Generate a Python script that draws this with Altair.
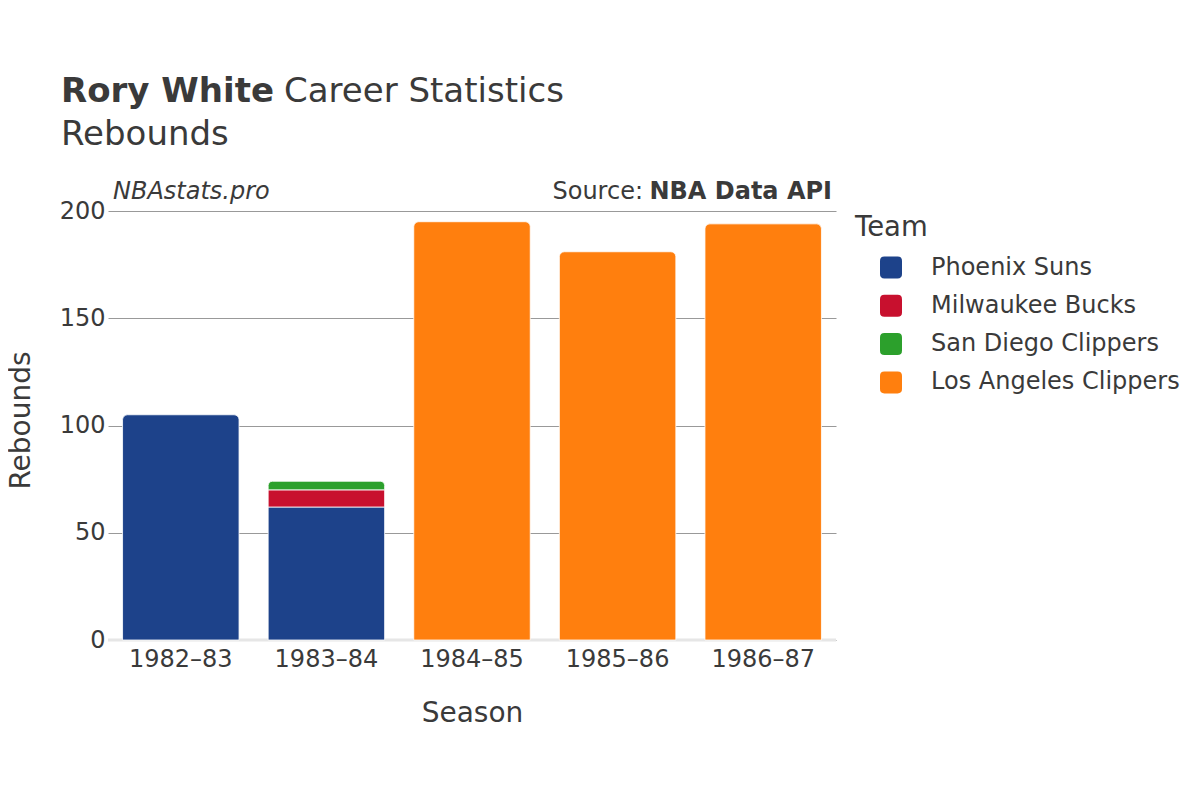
import altair as alt
import pandas as pd

seasons = ["1982–83", "1983–84", "1983–84", "1983–84", "1984–85", "1985–86", "1986–87"]
teams = ["Phoenix Suns", "Phoenix Suns", "Milwaukee Bucks", "San Diego Clippers",
         "Los Angeles Clippers", "Los Angeles Clippers", "Los Angeles Clippers"]
rebounds = [105, 62, 8, 4, 195, 181, 194]

season_order = ["1982–83", "1983–84", "1984–85", "1985–86", "1986–87"]
team_order = ["Phoenix Suns", "Milwaukee Bucks", "San Diego Clippers", "Los Angeles Clippers"]
team_colors = ["#1d428a", "#c8102e", "#2ca02c", "#ff7f0e"]
y_ticks = [0, 50, 100, 150, 200]

df = pd.DataFrame({"Season": seasons, "Team": teams, "Rebounds": rebounds})
df["order"] = [team_order.index(t) for t in df["Team"]]

FONT = "DejaVu Sans"
TXT = "#3a3a3a"
W, H = 728, 429

color = alt.Color(
    "Team:N",
    scale=alt.Scale(domain=team_order, range=team_colors),
    legend=alt.Legend(
        title="Team", orient="none", legendX=747, legendY=3,
        titleFontSize=27.5, titleFont=FONT, titleColor=TXT, titleFontWeight="normal",
        titlePadding=14,
        labelFontSize=24, labelFont=FONT, labelColor=TXT, labelLimit=400,
        symbolType="M -0.6,-1 L 0.6,-1 Q 1,-1 1,-0.6 L 1,0.6 Q 1,1 0.6,1 L -0.6,1 Q -1,1 -1,0.6 L -1,-0.6 Q -1,-1 -0.6,-1 Z",
        symbolSize=484, symbolStrokeWidth=0, symbolOpacity=1,
        symbolOffset=24, labelOffset=28, rowPadding=14.3,
    ),
)

x_enc = alt.X(
    "Season:N", sort=season_order,
    scale=alt.Scale(domain=season_order, paddingInner=0.2, paddingOuter=0.1),
    axis=alt.Axis(title="Season", labelAngle=0, labelFontSize=24, labelFont=FONT,
                  labelColor=TXT, labelPadding=7, ticks=False, domain=False,
                  titleFontSize=28, titleFont=FONT, titleColor=TXT,
                  titleFontWeight="normal", titlePadding=28),
)
y_axis = alt.Axis(title="Rebounds", values=y_ticks, labelFontSize=24, labelFont=FONT,
                  labelColor=TXT, labelPadding=3, ticks=False, domain=False,
                  gridColor="#999999", gridWidth=1,
                  titleFontSize=28, titleFont=FONT, titleColor=TXT,
                  titleFontWeight="normal", titlePadding=24, titleY=209)

base = (
    alt.Chart(df)
    .transform_stack(stack="Rebounds", groupby=["Season"], as_=["y0", "y1"],
                     sort=[alt.SortField("order", order="ascending")])
    .transform_joinaggregate(top="max(y1)", groupby=["Season"])
)

bars_mid = base.transform_filter("datum.y1 < datum.top").mark_bar(
    stroke="white", strokeWidth=0.8
).encode(
    x=x_enc,
    y=alt.Y("y0:Q", scale=alt.Scale(domain=[0, 200]), axis=y_axis),
    y2="y1:Q",
    color=color,
)
bars_top = base.transform_filter("datum.y1 >= datum.top").mark_bar(
    stroke="white", strokeWidth=0.8, cornerRadiusTopLeft=5, cornerRadiusTopRight=5
).encode(
    x=x_enc,
    y=alt.Y("y0:Q", scale=alt.Scale(domain=[0, 200]), axis=y_axis),
    y2="y1:Q",
    color=color,
)

zero = alt.Chart(pd.DataFrame({"v": [0]})).mark_rule(color="#e6e6e6", strokeWidth=3).encode(
    y=alt.Y("v:Q", scale=alt.Scale(domain=[0, 200]))
)

one = pd.DataFrame({"a": [0]})


def txt(text, x, y, size, weight="normal", style="normal", align="left"):
    return alt.Chart(one).mark_text(
        text=text, font=FONT, fontSize=size, fontWeight=weight, fontStyle=style,
        align=align, baseline="alphabetic", color=TXT
    ).encode(x=alt.value(x), y=alt.value(y))


texts = [
    txt("Rory White", -47, -109, 34, weight="bold"),
    txt("Career Statistics", 176, -109, 34),
    txt("Rebounds", -47, -66, 34),
    txt("NBAstats.pro", 5, -12, 24, style="italic"),
    txt("Source:", 535, -12, 24, align="right"),
    txt("NBA Data API", 724, -12, 24, weight="bold", align="right"),
]

chart = alt.layer(zero, bars_mid, bars_top, *texts).properties(
    width=W, height=H,
    autosize=alt.AutoSizeParams(type="none"),
    padding={"left": 100, "top": 203, "right": 356, "bottom": 160},
    background="white",
).configure_view(stroke=None, strokeWidth=0)

chart.save("out.html", embed_options={"renderer": "svg", "actions": False})
